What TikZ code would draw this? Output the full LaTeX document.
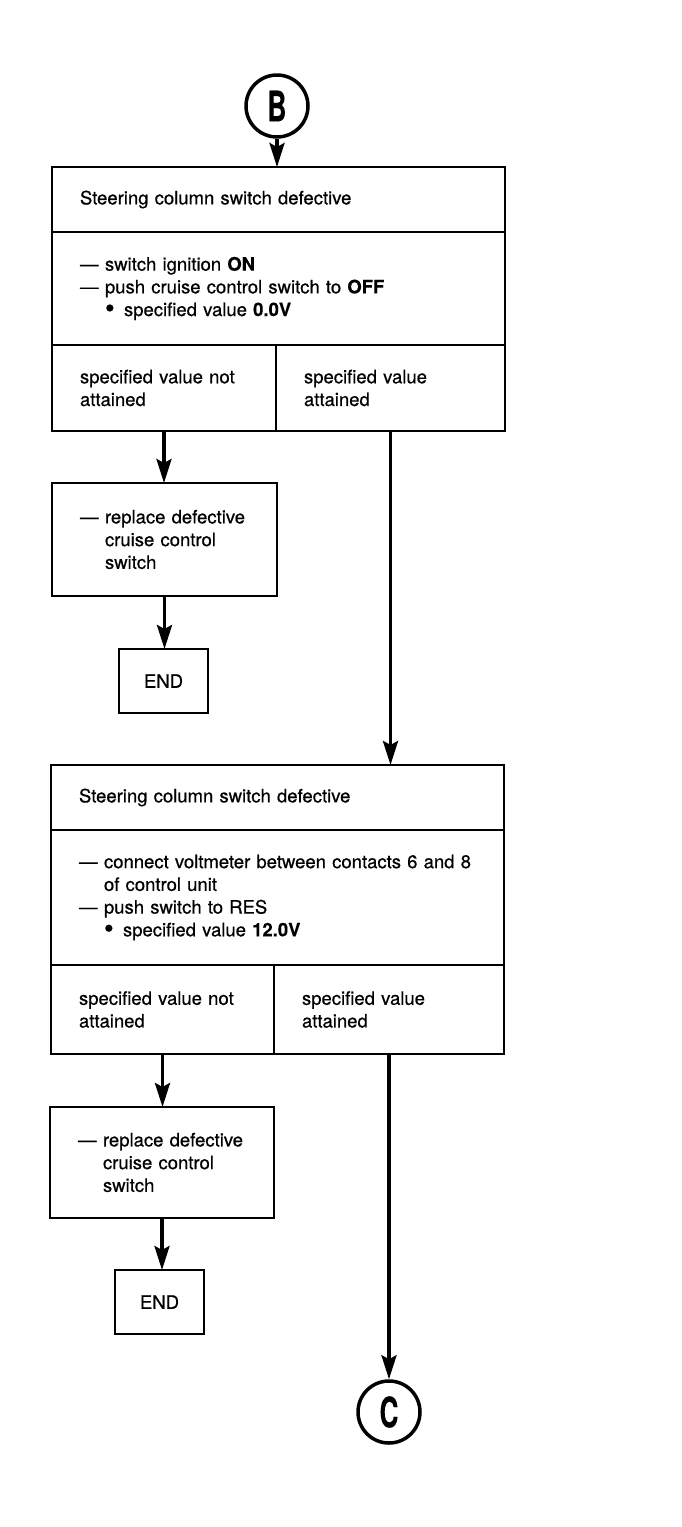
\documentclass[tikz,border=0pt]{standalone}
\usepackage{fontspec}
\setmainfont{TeX Gyre Heros}[UprightFeatures={FakeBold=0.6}, BoldFeatures={FakeBold=0.3}]
\usepackage{graphicx}
\usetikzlibrary{arrows.meta}

\newcommand{\dashitem}{\makebox[25pt][l]{\textemdash}}
\newcommand{\hang}{\hspace*{25pt}}
\newcommand{\bulletitem}{\hang\makebox[19pt][l]{\raisebox{-1.5pt}{\scalebox{1.5}{\textbullet}}}}
\newcommand{\conn}[1]{\scalebox{0.62}[1]{\fontsize{42}{42}\selectfont\bfseries #1}}

\tikzset{
	cell/.style={draw, line width=1.6pt, anchor=north west, outer sep=0pt, inner xsep=28pt, inner ysep=0pt, align=left, font=\fontsize{18.5}{22.7}\selectfont},
	endbox/.style={draw, line width=1.6pt, anchor=north west, outer sep=0pt, inner sep=0pt, minimum width=89pt, minimum height=64pt, font=\fontsize{18.5}{22.7}\selectfont},
	connector/.style={draw, circle, line width=3.5pt, inner sep=0pt, minimum size=62pt},
	flow/.style={line width=3.5pt, -{Stealth[length=24pt, width=15pt, inset=4pt]}},
}

\begin{document}
\begin{tikzpicture}[x=1pt, y=-1pt]
	\useasboundingbox (0, 0) rectangle (682, 1527);
	\node [connector] (B) at (277, 106) {\conn{B}};
	% first test
	\node [cell, text width=397pt, minimum height=65pt] (t1) at (52, 167) {Steering column switch defective};
	\node [cell, text width=397pt, minimum height=113pt] (b1) at (t1.south west) {\dashitem switch ignition \textbf{ON}\\ \dashitem push cruise control switch to \textbf{OFF}\\ \bulletitem specified value \textbf{0.0V}};
	\node [cell, text width=168pt, minimum height=86pt] (l1) at (b1.south west) {specified value not\\ attained};
	\node [cell, text width=173pt, minimum height=86pt] (r1) at (l1.north east) {specified value\\ attained};
	\node [cell, text width=169pt, minimum height=113pt] (a1) at (52, 483) {\dashitem replace defective\\ \hang cruise control\\ \hang switch};
	\node [endbox] (e1) at (119, 649) {END};
	% second test
	\node [cell, text width=397pt, minimum height=65pt] (t3) at (51, 765) {Steering column switch defective};
	\node [cell, text width=397pt, minimum height=135pt] (b3) at (t3.south west) {\dashitem connect voltmeter between contacts 6 and 8\\ \hang of control unit\\ \dashitem push switch to RES\\ \bulletitem specified value \textbf{12.0V}};
	\node [cell, text width=167pt, minimum height=89pt] (l3) at (b3.south west) {specified value not\\ attained};
	\node [cell, text width=174pt, minimum height=89pt] (r3) at (l3.north east) {specified value\\ attained};
	\node [cell, text width=168pt, minimum height=111pt] (a3) at (50, 1107) {\dashitem replace defective\\ \hang cruise control\\ \hang switch};
	\node [endbox] (e3) at (115, 1270) {END};
	\node [connector] (C) at (389, 1412) {\conn{C}};
	\draw [flow] (B) -- (B |- t1.north);
	\draw [flow] (l1.south) -- (l1.south |- a1.north);
	\draw [flow] (a1.south) -- (a1.south |- e1.north);
	\draw [flow] (r1.south) -- (r1.south |- t3.north);
	\draw [flow] (l3.south) -- (l3.south |- a3.north);
	\draw [flow] (a3.south) -- (a3.south |- e3.north);
	\draw [flow] (r3.south) -- (C);
\end{tikzpicture}
\end{document}
